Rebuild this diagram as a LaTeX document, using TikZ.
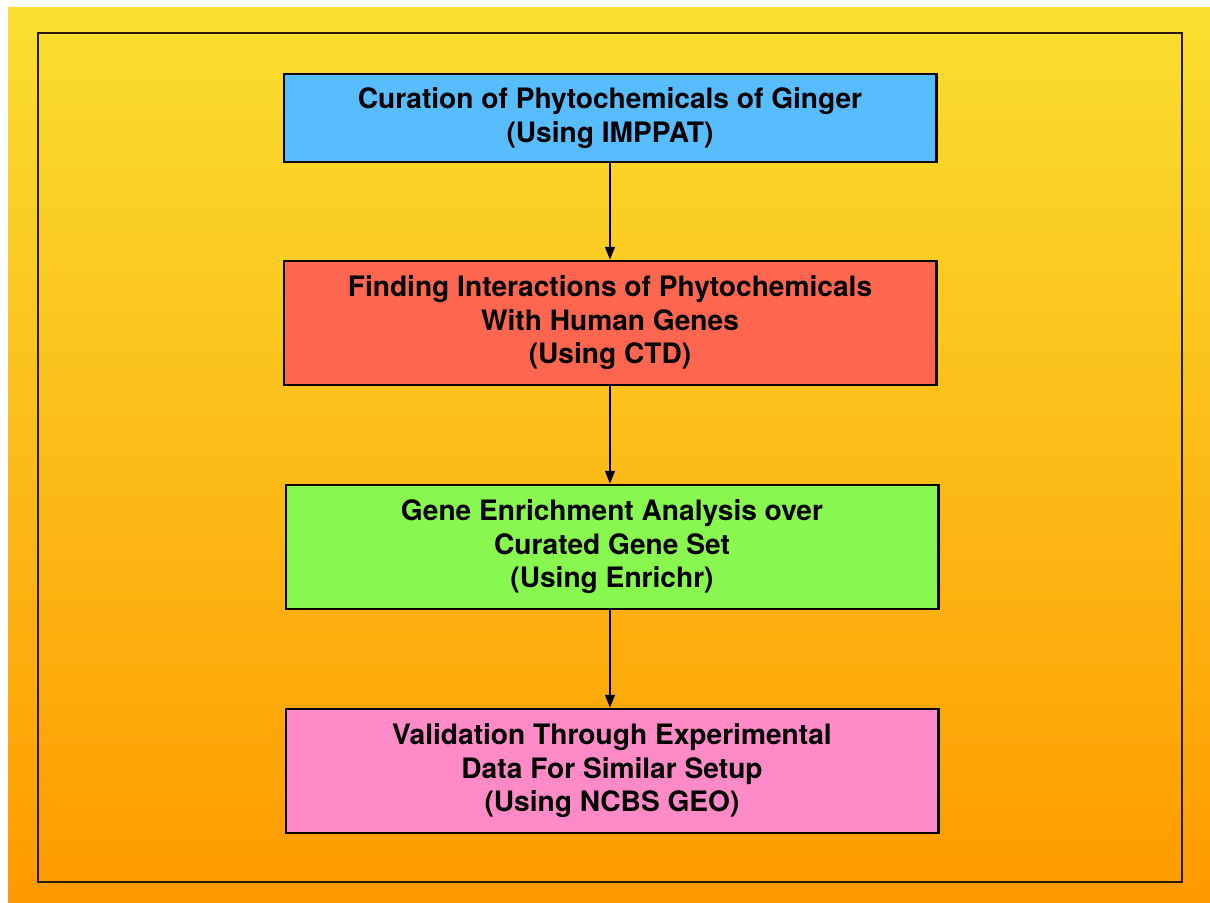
\documentclass[tikz,border=0pt]{standalone}
\usepackage{fontspec}
\setmainfont{TeX Gyre Heros}
\usetikzlibrary{arrows.meta}

\definecolor{bgtop}{HTML}{F9DF30}
\definecolor{bgbot}{HTML}{FF9A00}
\definecolor{stepblue}{HTML}{57BDFF}
\definecolor{stepred}{HTML}{FF6650}
\definecolor{stepgreen}{HTML}{88F750}
\definecolor{steppink}{HTML}{FF8AC8}
\definecolor{framecol}{HTML}{2B1A08}

\begin{document}
\begin{tikzpicture}[x=0.025cm, y=-0.025cm,
  stepbox/.style={draw=black, line width=2pt, inner sep=0pt, minimum width=16.3cm,
    align=center, font=\bfseries\fontsize{20}{23.8}\selectfont, text=black},
  flow/.style={-{Triangle[length=9pt,width=7pt]}, line width=1.3pt, draw=black}]
  \useasboundingbox (0,0) rectangle (1210,902);
  \shade[top color=bgtop, bottom color=bgbot] (8,7) rectangle (1210,902);
  \draw[framecol, line width=1.6pt] (38,33) rectangle (1182,882);

  \node[stepbox, fill=stepblue, minimum height=2.2cm] (cur) at (610,118)
    {Curation of Phytochemicals of Ginger\\(Using IMPPAT)};
  \node[stepbox, fill=stepred, minimum height=3.1cm] (ctd) at (610,323)
    {Finding Interactions of Phytochemicals\\With Human Genes\\(Using CTD)};
  \node[stepbox, fill=stepgreen, minimum height=3.1cm] (enr) at (612,547)
    {Gene Enrichment Analysis over\\Curated Gene Set\\(Using Enrichr)};
  \node[stepbox, fill=steppink, minimum height=3.1cm] (geo) at (612,771)
    {Validation Through Experimental\\Data For Similar Setup\\(Using NCBS GEO)};

  \draw[flow] (cur.south) -- (cur.south |- ctd.north);
  \draw[flow] (ctd.south) -- (ctd.south |- enr.north);
  \draw[flow] (enr.south -| ctd.south) -- (ctd.south |- geo.north);
\end{tikzpicture}
\end{document}
